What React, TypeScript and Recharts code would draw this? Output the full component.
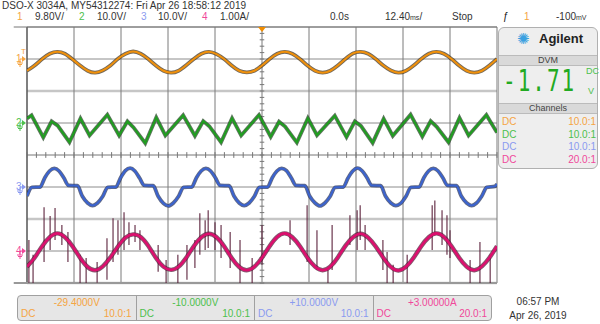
import { ComposedChart, Line, XAxis, YAxis, ReferenceLine, ReferenceDot } from "recharts"

// time base (ms), sample grid for the sine-like channels
const TIME = [
  -62, -60, -58, -56, -54, -52, -50, -48, -46, -44, -42, -40, -38, -36, -34, -32, -30, -28, -26, -24, -22,
  -20, -18, -16, -14, -12, -10, -8, -6, -4, -2, 0, 2, 4, 6, 8, 10, 12, 14, 16, 18, 20, 22, 24, 26, 28, 30,
  32, 34, 36, 38, 40, 42, 44, 46, 48, 50, 52, 54, 56, 58, 60, 62,
]

// channel 1 (V)
const CH1_V = [
  -3.6, -2.0, 0.0, 1.6, 2.2, 1.6, -0.1, -2.0, -3.6, -4.2,
  -3.5, -2.0, 0.1, 1.6, 2.3, 1.6, 0.0, -2.0, -3.6, -4.2,
  -3.6, -1.9, 0.0, 1.6, 2.2, 1.5, 0.0, -2.0, -3.6, -4.1,
  -3.6, -2.0, 0.0, 1.6, 2.2, 1.6, 0.0, -2.0, -3.6, -4.2,
  -3.6, -2.0, 0.0, 1.7, 2.2, 1.6, 0.0, -2.0, -3.5, -4.2,
  -3.6, -2.0, 0.0, 1.6, 2.2, 1.6, 0.0, -2.0, -3.6, -4.2,
  -3.6, -2.0, 0.0,
]

// channel 4 (A)
const CH4_A = [
  -0.49, -0.21, 0.15, 0.43, 0.55, 0.43, 0.15, -0.21, -0.5, -0.6,
  -0.48, -0.2, 0.14, 0.42, 0.52, 0.44, 0.16, -0.21, -0.49, -0.59,
  -0.49, -0.21, 0.15, 0.43, 0.54, 0.43, 0.15, -0.22, -0.5, -0.6,
  -0.49, -0.21, 0.15, 0.44, 0.55, 0.43, 0.15, -0.21, -0.49, -0.6,
  -0.49, -0.2, 0.16, 0.43, 0.54, 0.42, 0.14, -0.21, -0.5, -0.61,
  -0.49, -0.21, 0.15, 0.43, 0.55, 0.44, 0.15, -0.21, -0.49, -0.6,
  -0.48, -0.21, 0.15,
]

// channel 2 (V) vertices
const CH2_T = [
  -62, -60.8, -57.7, -55.5, -53.9, -50.8, -47.9, -45.5,
  -40.8, -37.7, -35.5, -33.9, -30.8, -27.9, -25.5,
  -20.8, -17.7, -15.5, -13.9, -10.8, -7.9, -5.5,
  -0.8, 2.3, 4.5, 6.1, 9.2, 12.1, 14.5,
  19.2, 22.3, 24.5, 26.1, 29.2, 32.1, 34.5,
  39.2, 42.3, 44.5, 46.1, 49.2, 52.1, 54.5,
  59.2, 62,
]
const CH2_V = [
  1.4, 2.4, -4.5, 0.5, -0.8, -6.0, 1.4, -3.9,
  2.6, -3.9, 0.5, -1.4, -6.3, 1.7, -3.9,
  2.4, -4.0, 0.6, -1.0, -6.0, 1.5, -3.9,
  2.5, -4.3, 0.4, -1.1, -6.1, 1.5, -3.8,
  2.3, -4.4, 0.5, -0.9, -6.2, 1.3, -4.0,
  2.6, -4.2, 0.6, -1.2, -6.0, 1.6, -3.9,
  2.5, -3.0,
]

// channel 3 (V)
const CH3_T = [
  -62, -60.7,
  -58.55, -57.3, -56.05, -54.8, -53.55, -52.3, -51.05, -48.7, -47.4, -46.0, -44.7, -43.4, -42.0, -40.7,
  -38.55, -37.3, -36.05, -34.8, -33.55, -32.3, -31.05, -28.7, -27.4, -26.0, -24.7, -23.4, -22.0, -20.7,
  -18.55, -17.3, -16.05, -14.8, -13.55, -12.3, -11.05, -8.7, -7.4, -6.0, -4.7, -3.4, -2.0, -0.7,
  1.45, 2.7, 3.95, 5.2, 6.45, 7.7, 8.95, 11.3, 12.6, 14.0, 15.3, 16.6, 18.0, 19.3,
  21.45, 22.7, 23.95, 25.2, 26.45, 27.7, 28.95, 31.3, 32.6, 34.0, 35.3, 36.6, 38.0, 39.3,
  41.45, 42.7, 43.95, 45.2, 46.45, 47.7, 48.95, 51.3, 52.6, 54.0, 55.3, 56.6, 58.0, 59.3,
  61.45, 62,
]
const CH3_V = [
  -2.8, -0.1,
  0.0, 2.9, 5.0, 5.8, 5.0, 2.9, 0.5, 0.4, -2.9, -5.0, -5.8, -5.0, -2.9, -0.1,
  0.0, 2.9, 5.1, 5.9, 5.0, 2.8, 0.5, 0.4, -2.9, -5.1, -5.9, -5.0, -2.9, -0.1,
  0.0, 2.9, 5.0, 5.8, 5.0, 2.9, 0.5, 0.4, -2.8, -5.0, -5.8, -5.0, -2.9, -0.1,
  0.0, 2.9, 5.0, 5.8, 5.1, 2.9, 0.5, 0.4, -2.9, -5.0, -5.9, -5.0, -2.9, -0.1,
  0.0, 2.8, 5.0, 5.9, 5.0, 2.9, 0.5, 0.4, -2.9, -5.0, -5.8, -5.1, -2.9, -0.1,
  0.0, 2.9, 5.0, 5.8, 5.0, 2.9, 0.5, 0.4, -2.9, -5.0, -5.8, -5.0, -2.8, -0.1,
  0.2, 0.9,
]

// channel 4 glitches: time, low, high (A)
const SPIKE_T = [
  -61.5, -60.4, -57.5, -55.9, -54.6, -52.8, -51.2, -48.0, -46.4, -43.5, -40.9, -39.3, -38.0, -36.4, -35.1,
  -33.5, -32.2, -27.4, -25.3, -22.2, -19.8, -17.7, -16.4, -15.0, -14.2, -12.4, -10.8, -8.4, -5.8, -2.6, 0,
  7.4, 11.9, 14.5, 17.4, 18.5, 23.2, 25.1, 25.9, 27.2, 31.9, 33.0, 34.6, 38.3, 44.9, 45.6, 47.5, 48.8, 49.6,
  54.9, 57.5, 60.2,
]
const SPIKE_LO = [
  -0.99, -1.0, -0.34, 0.03, 0.34, 0.19, -0.34, -1.0, -1.0, -0.99, -0.9, -0.34, -0.12, 0.03, 0.19,
  0.28, 0.03, -0.65, -1.0, -1.0, -0.9, -0.53, -0.12, 0.03, 0.09, 0.03, -0.22, -0.53, -1.0, -1.0, -0.43,
  0.19, -0.34, -0.59, -1.0, -0.59, 0.19, 0.03, 0.34, 0.03, -0.59, -1.0, -1.0, -1.0, 0.03, 0.5, 0.19, -0.12, -0.22,
  -1.0, -1.0, -1.0,
]
const SPIKE_HI = [
  0.34, -0.12, 1.37, 1.09, 1.34, 0.81, 0.59, -0.12, -0.22, -0.34, 0.4, 1.02, 0.96, 1.21, 0.9,
  0.81, 0.65, 0.19, -0.28, -0.12, 0.19, 0.34, 1.18, 0.96, 1.27, 0.9, 0.81, 0.59, 0.34, -0.22, 0.81,
  0.96, 1.43, 0.65, -0.59, 0.81, 1.12, 1.27, 1.43, 0.81, 0.34, -0.03, -0.43, -0.12, 1.43, 1.58, 1.27, 1.12, 0.65,
  -0.28, 0.28, -0.12,
]

// channel settings as shown on the scope
const SCALES = [9.8, 10, 10, 1]
const OFFSETS = [-29.4, -10, 10, 3]
const UNITS = ["V", "V", "V", "A"]
const PROBES = ["10.0:1", "10.0:1", "10.0:1", "20.0:1"]

const TRACE = ["#f0900a", "#1f9f1f", "#3a63d0", "#dc0f6e"]
const FUZZ = ["#3a2a12", "#1a3a1a", "#1c2a55", "#4d1230"]
const LABEL = ["#f5a442", "#4cc04c", "#8a9af0", "#f0489a"]

const FONT = "'Liberation Sans', Arial, sans-serif"
const T0 = -62
const T1 = 62
const DIV_T = (T1 - T0) / 10

const toDiv = (v: number, ch: number) => (v - OFFSETS[ch]) / SCALES[ch]
const GROUND = OFFSETS.map((o, i) => -o / SCALES[i])

const mainRows = TIME.map((t, i) => ({ t, ch1: CH1_V[i], ch4: CH4_A[i] }))
const ch2Rows = CH2_T.map((t, i) => ({ t, v: CH2_V[i] }))
const ch3Rows = CH3_T.map((t, i) => ({ t, v: CH3_V[i] }))

const xGrid = Array.from({ length: 11 }, (_, k) => T0 + DIV_T * k)
const yGrid = [4, 3, 2, 1, 0, -1, -2, -3, -4]
const xMinor = Array.from({ length: 51 }, (_, k) => T0 + (DIV_T / 5) * k)
const yMinor = Array.from({ length: 41 }, (_, k) => -4 + 0.2 * k)

const hStyle = (y: number) => {
  if (y === 2 || y === -2 || y === -4) return { stroke: "#c6c6c6", w: 2.5 }
  if (y === 0) return { stroke: "#777", w: 1 }
  return { stroke: "#8c8c8c", w: 1 }
}

const GroundTick = (props: any) => {
  const { x, y, index } = props
  const c = LABEL[index]
  return (
    <g>
      <text x={x - 11} y={y + 3} fontSize={10} fill={c} fontFamily={FONT}>
        {index + 1}
      </text>
      {index === 0 && (
        <text x={x - 6} y={y - 5} fontSize={8} fill={c} fontFamily={FONT}>
          T
        </text>
      )}
      <path d={`M${x - 7},${y} L${x - 5},${y}`} stroke={c} strokeWidth={1} />
      <path d={`M${x - 5},${y - 3} L${x - 1},${y} L${x - 5},${y + 3} Z`} fill={c} />
      <path d={`M${x - 7},${y} L${x - 7},${y + 4} M${x - 10},${y + 4} L${x - 4},${y + 4} M${x - 9},${y + 5.5} L${x - 5},${y + 5.5} M${x - 8},${y + 7} L${x - 6},${y + 7}`} stroke={c} strokeWidth={1} />
    </g>
  )
}

const trace = (key: string, data: any[], fn: (d: any) => number, ch: number, type: any, w: number) => [
  <Line key={key + "f"} data={data} dataKey={fn} type={type} stroke={FUZZ[ch]} strokeWidth={w + 1.8} strokeOpacity={0.7} dot={false} activeDot={false} isAnimationActive={false} />,
  <Line key={key} data={data} dataKey={fn} type={type} stroke={TRACE[ch]} strokeWidth={w} dot={false} activeDot={false} isAnimationActive={false} />,
]

const abs = (left: number, top: number, extra: any = {}) => ({
  position: "absolute" as const,
  left,
  top,
  fontFamily: FONT,
  fontSize: 10,
  lineHeight: "10px",
  whiteSpace: "nowrap" as const,
  color: "#333",
  ...extra,
})

export default function App() {
  const sig = (v: number) => (v > 0 ? "+" : "") + v.toPrecision(6)
  return (
    <div style={{ position: "absolute", left: 0, top: 0, width: 600, height: 324, background: "#fff", overflow: "hidden" }}>
      <ComposedChart width={600} height={324} margin={{ top: 27, right: 103, bottom: 41, left: 0 }}>
        <XAxis type="number" dataKey="t" domain={[T0, T1]} hide allowDataOverflow />
        <YAxis
          type="number"
          domain={[-4, 4]}
          ticks={GROUND}
          interval={0}
          width={27}
          axisLine={false}
          tickLine={false}
          tickSize={0}
          tickMargin={0}
          tick={(p: any) => <GroundTick {...p} />}
          allowDataOverflow
        />
        {yGrid.map((y) => {
          const s = hStyle(y)
          return <ReferenceLine key={"h" + y} y={y} stroke={s.stroke} strokeWidth={s.w} />
        })}
        {xGrid.map((x, k) => (
          <ReferenceLine key={"v" + k} x={x} stroke={k === 0 ? "#555" : "#7a7a7a"} strokeWidth={k === 0 ? 1.5 : 1} />
        ))}
        <ReferenceLine segment={[{ x: T0 - 3.5, y: 4 }, { x: T1, y: 4 }]} stroke="#777" strokeWidth={1} ifOverflow="visible" />
        <ReferenceLine segment={[{ x: T0 - 3.5, y: -4 }, { x: T1, y: -4 }]} stroke="#999" strokeWidth={2} ifOverflow="visible" />
        {xMinor.map((x, k) => (
          <ReferenceLine key={"xm" + k} segment={[{ x, y: -0.09 }, { x, y: 0.09 }]} stroke="#777" />
        ))}
        {yMinor.map((y, k) => (
          <ReferenceLine key={"ym" + k} segment={[{ x: -0.6, y }, { x: 0.6, y }]} stroke="#777" />
        ))}
        {trace("c1", mainRows, (d) => toDiv(d.ch1, 0), 0, "natural", 2)}
        {trace("c2", ch2Rows, (d) => toDiv(d.v, 1), 1, "linear", 2)}
        {trace("c3", ch3Rows, (d) => toDiv(d.v, 2), 2, "monotone", 2)}
        {SPIKE_T.map((t, i) => (
          <Line
            key={"s" + i}
            data={[{ t, v: SPIKE_LO[i] }, { t, v: SPIKE_HI[i] }]}
            dataKey={(d: any) => toDiv(d.v, 3)}
            type="linear"
            stroke="#5a1f3a"
            strokeOpacity={0.9}
            strokeWidth={1.2}
            dot={false}
            activeDot={false}
            isAnimationActive={false}
          />
        ))}
        {trace("c4", mainRows, (d) => toDiv(d.ch4, 3), 3, "natural", 2.6)}
        <ReferenceDot
          x={0}
          y={4}
          ifOverflow="visible"
          shape={(p: any) => <path d={`M${p.cx - 4},${p.cy} L${p.cx + 4},${p.cy} L${p.cx},${p.cy + 5} Z`} fill="#f08c00" />}
        />
      </ComposedChart>

      {/* header */}
      <div style={abs(2, 1)}>DSO-X 3034A, MY54312274: Fri Apr 26 18:58:12 2019</div>
      {[17, 79, 141, 202].map((x, i) => (
        <div key={"n" + i} style={abs(x, 12, { color: LABEL[i] })}>
          {i + 1}
        </div>
      ))}
      {[35, 97, 158, 220].map((x, i) => (
        <div key={"sc" + i} style={abs(x, 12)}>
          {SCALES[i].toPrecision(3) + UNITS[i] + "/"}
        </div>
      ))}
      <div style={abs(330, 12)}>0.0s</div>
      <div style={abs(385, 12)}>
        12.40<span style={{ fontSize: 7 }}>ms</span>/
      </div>
      <div style={abs(452, 12)}>Stop</div>
      <div style={abs(503, 12, { color: "#111" })}>ƒ</div>
      <div style={abs(524, 12, { color: LABEL[0] })}>1</div>
      <div style={abs(556, 12)}>
        -100<span style={{ fontSize: 7 }}>mV</span>
      </div>

      {/* right panel */}
      <div
        style={{
          position: "absolute",
          left: 498,
          top: 27,
          width: 100,
          height: 142,
          border: "1px solid #b0b0b0",
          borderRadius: 6,
          background: "#eeeeee",
          boxSizing: "border-box",
        }}
      />
      <div style={abs(517, 32, { fontSize: 15, lineHeight: "15px", color: "#3aa0e0", fontFamily: "'DejaVu Sans'" })}>✺</div>
      <div style={abs(539, 32, { fontSize: 13, lineHeight: "13px", fontWeight: "bold", color: "#222" })}>Agilent</div>
      <div style={{ position: "absolute", left: 499, top: 55, width: 98, height: 9, background: "#d9d9d9", borderTop: "1px solid #bbb", borderBottom: "1px solid #bbb" }} />
      <div style={abs(499, 55, { width: 98, textAlign: "center", fontSize: 9, lineHeight: "10px", color: "#444" })}>DVM</div>
      <div
        style={abs(503, 67, {
          fontSize: 21,
          lineHeight: "21px",
          color: "#22aa22",
          fontFamily: "'DejaVu Sans Mono', monospace",
          letterSpacing: 2,
          transform: "scaleY(1.4)",
          transformOrigin: "top left",
        })}
      >
        -1.71
      </div>
      <div style={abs(586, 66, { fontSize: 9, color: "#4cc04c" })}>DC</div>
      <div style={abs(588, 86, { fontSize: 9, color: "#4cc04c" })}>V</div>
      <div style={{ position: "absolute", left: 499, top: 103, width: 98, height: 9, background: "#d9d9d9", borderTop: "1px solid #bbb", borderBottom: "1px solid #bbb" }} />
      <div style={abs(499, 103, { width: 98, textAlign: "center", fontSize: 9, lineHeight: "10px", color: "#444" })}>Channels</div>
      {PROBES.map((p, i) => (
        <div key={"pr" + i}>
          <div style={abs(502, 117 + i * 12.7, { color: LABEL[i] })}>DC</div>
          <div style={abs(548, 117 + i * 12.7, { width: 48, textAlign: "right", color: LABEL[i] })}>{p}</div>
        </div>
      ))}

      {/* bottom offset boxes */}
      <div
        style={{
          position: "absolute",
          left: 17,
          top: 295,
          width: 475,
          height: 26,
          border: "1px solid #a0a0a0",
          borderRadius: 4,
          background: "#e6e6e6",
          boxSizing: "border-box",
          display: "flex",
        }}
      >
        {OFFSETS.map((o, i) => (
          <div
            key={"b" + i}
            style={{
              flex: 1,
              position: "relative",
              borderLeft: i === 0 ? "none" : "1px solid #a0a0a0",
              fontFamily: FONT,
              fontSize: 10,
              color: LABEL[i],
            }}
          >
            <div style={{ position: "absolute", left: 0, right: 0, top: 2, textAlign: "center", lineHeight: "10px" }}>{sig(o) + UNITS[i]}</div>
            <div style={{ position: "absolute", left: 3, top: 13, lineHeight: "10px" }}>DC</div>
            <div style={{ position: "absolute", right: 4, top: 13, lineHeight: "10px" }}>{PROBES[i]}</div>
          </div>
        ))}
      </div>
      <div style={abs(500, 297, { width: 76, textAlign: "center" })}>06:57 PM</div>
      <div style={abs(500, 311, { width: 76, textAlign: "center" })}>Apr 26, 2019</div>
    </div>
  )
}
